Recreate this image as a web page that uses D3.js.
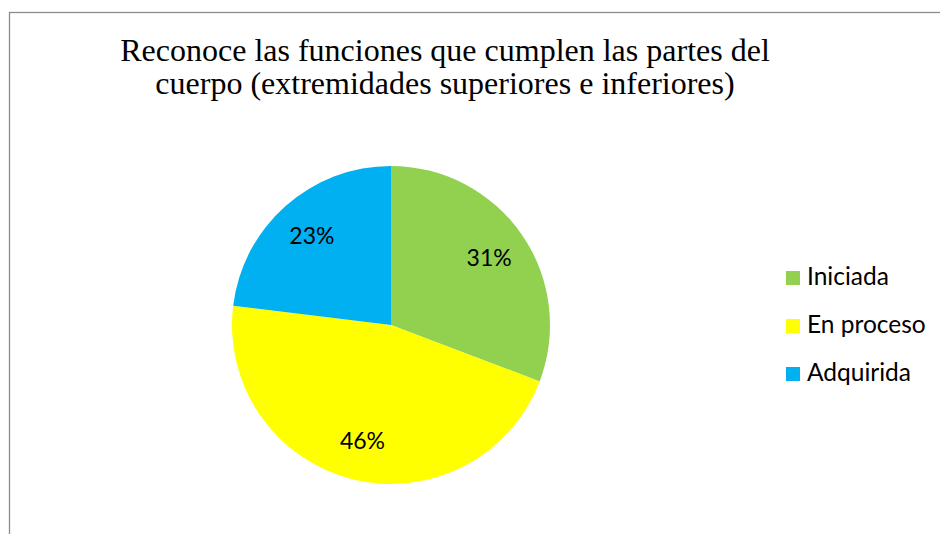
<!DOCTYPE html>
<html>
<head>
<meta charset="utf-8">
<script src="https://cdn.jsdelivr.net/npm/d3@7"></script>
<style>
  body { margin: 0; background: #fff; }
  svg { display: block; }
</style>
</head>
<body>
<svg id="chart"></svg>
<script>
// data
const categories = ["Iniciada", "En proceso", "Adquirida"]
const values = [30.8, 46.2, 23.1]
const labels = ["31%", "46%", "23%"]
const colors = ["#92d050", "#ffff00", "#00b0f0"]
const titleLines = ["Reconoce las funciones que cumplen las partes del",
                    "cuerpo (extremidades superiores e inferiores)"]

const width = 940, height = 534

const svg = d3.select("#chart").attr("width", width).attr("height", height)

// chart area frame (runs off the right and bottom)
svg.append("rect")
  .attr("x", 9.5).attr("y", 12.5)
  .attr("width", 960).attr("height", 560)
  .attr("fill", "#fff")
  .attr("stroke", "#8c8c8c")
  .attr("stroke-width", 1.3)

// title
svg.append("g").selectAll("text")
  .data(titleLines)
  .enter().append("text")
    .attr("x", 445)
    .attr("y", (d, i) => 61 + i * 33)
    .attr("text-anchor", "middle")
    .style("font-family", "'Liberation Serif', 'Times New Roman', serif")
    .style("font-size", "32px")
    .attr("fill", "#000")
    .text(d => d)

// pie
const cx = 391, cy = 325, r = 159
const pie = d3.pie().sort(null).value(d => d)
const arc = d3.arc().innerRadius(0).outerRadius(r)
const arcs = pie(values)

const g = svg.append("g").attr("transform", `translate(${cx},${cy})`)
g.selectAll("path")
  .data(arcs)
  .enter().append("path")
    .attr("d", arc)
    .attr("fill", (d, i) => colors[i])

const labelArc = d3.arc().innerRadius(r * 0.75).outerRadius(r * 0.75)
g.selectAll("text")
  .data(arcs)
  .enter().append("text")
    .attr("transform", d => `translate(${labelArc.centroid(d)})`)
    .attr("text-anchor", "middle")
    .attr("dy", "0.36em")
    .style("font-family", "Lato, 'Open Sans', sans-serif")
    .style("font-size", "23px")
    .attr("fill", "#000")
    .text((d, i) => labels[i])

// legend
const legend = svg.append("g").attr("transform", "translate(786,271)")
const item = legend.selectAll("g")
  .data(categories)
  .enter().append("g")
    .attr("transform", (d, i) => `translate(0,${i * 48})`)
item.append("rect")
  .attr("width", 14).attr("height", 14)
  .attr("fill", (d, i) => colors[i])
item.append("text")
  .attr("x", 21).attr("y", 14)
  .style("font-family", "Lato, 'Open Sans', sans-serif")
  .style("font-size", "24.5px")
  .attr("fill", "#000")
  .text(d => d)
</script>
</body>
</html>
